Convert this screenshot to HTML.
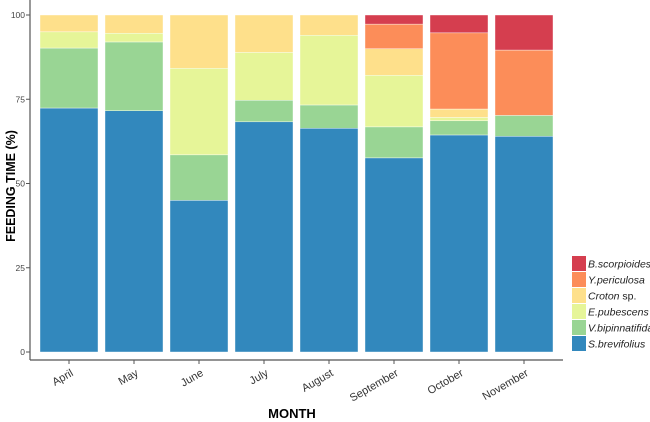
<!DOCTYPE html>
<html><head><meta charset="utf-8"><style>
body{margin:0;background:#fff}
svg{display:block;font-family:"Liberation Sans",sans-serif}
</style></head><body>
<svg id="chart" width="650" height="422">
<g id="bars"></g>
<g id="axes"></g>
<g id="legend"></g>
<text x="0" y="0" transform="translate(15,186) rotate(-90)" text-anchor="middle" font-size="12.5" font-weight="bold">FEEDING TIME (%)</text>
<text x="292" y="418" text-anchor="middle" font-size="13" font-weight="bold">MONTH</text>
</svg>
<script>
const months = ["April","May","June","July","August","September","October","November"];
const species = ["S.brevifolius","V.bipinnatifida","E.pubescens","Croton sp.","Y.periculosa","B.scorpioides"];
const sBrevifolius = [72.4,71.6,45,68.3,66.4,57.6,64.4,64.0];
const vBipinnatifida = [17.8,20.4,13.5,6.4,6.9,9.2,4.2,6.2];
const ePubescens = [4.8,2.6,25.7,14.2,20.7,15.3,1.0,0];
const croton = [5.0,5.4,15.8,11.1,6.0,7.9,2.5,0];
const yPericulosa = [0,0,0,0,0,7.3,22.6,19.4];
const bScorpioides = [0,0,0,0,0,2.7,5.3,10.4];
const yTicks = [0,25,50,75,100];

const series = [sBrevifolius,vBipinnatifida,ePubescens,croton,yPericulosa,bScorpioides];
const colors = ["#3288bd","#99d594","#e6f598","#fee08b","#fc8d59","#d53e4f"];
const NS="http://www.w3.org/2000/svg";
const y0=352, y1=15;
const yScale = v => y0 - (v/100)*(y0-y1);
const step=65, barW=58, xStart=40;
const xScale = i => xStart + i*step;
function mk(tag,attrs,parent){const e=document.createElementNS(NS,tag);for(const k in attrs)e.setAttribute(k,attrs[k]);parent.appendChild(e);return e;}
const gb=document.getElementById('bars');
months.forEach((m,i)=>{
  let cum=0;
  series.forEach((s,j)=>{
    const v=s[i]; if(v<=0) return;
    const r=mk('rect',{x:xScale(i),y:yScale(cum+v),width:barW,height:yScale(cum)-yScale(cum+v),fill:colors[j],stroke:"#fff","stroke-width":0.4},gb);
    
    
    cum+=v;
  });
});
const ga=document.getElementById('axes');
let l=mk('line',{x1:30,y1:0,x2:30,y2:360,stroke:"#555","stroke-width":1.2},ga);


l=mk('line',{x1:30,y1:360,x2:563,y2:360,stroke:"#555","stroke-width":1.2},ga);


yTicks.forEach(t=>{
  const y=yScale(t);
  mk('line',{x1:26,y1:y,x2:30,y2:y,stroke:"#555"},ga);
  const tx=mk('text',{x:25,y:y+3,"text-anchor":"end","font-size":8.5,fill:"#444"},ga);
  tx.textContent=t;
  
  
});
months.forEach((m,i)=>{
  const cx=xScale(i)+barW/2;
  mk('line',{x1:cx,y1:360,x2:cx,y2:364,stroke:"#555"},ga);
  const tx=mk('text',{x:0,y:0,"text-anchor":"end","font-size":11,fill:"#333",transform:`translate(${cx+5},${375}) rotate(-30)`},ga);
  tx.textContent=m;
  
  
});
const gl=document.getElementById('legend');
for(let k=0;k<6;k++){
  const j=5-k, y=256+k*16;
  const r=mk('rect',{x:572,y:y,width:14,height:15,fill:colors[j]},gl);
  
  
  const tx=mk('text',{x:588,y:y+11.5,"font-size":10.5,fill:"#222"},gl);
  if(species[j]==="Croton sp."){tx.innerHTML='<tspan font-style="italic">Croton</tspan> sp.';}
  else{tx.setAttribute('font-style','italic');tx.textContent=species[j];}
  
  
}
</script>
</body></html>
